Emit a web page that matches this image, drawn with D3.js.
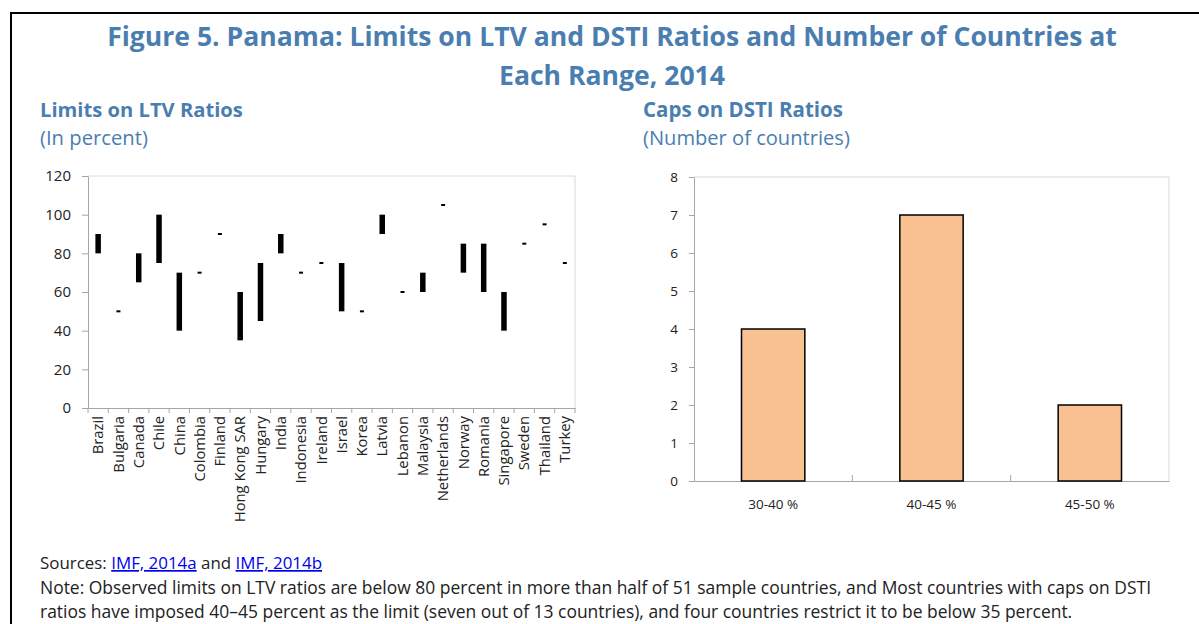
<!DOCTYPE html>
<html>
<head>
<meta charset="utf-8">
<script src="https://cdn.jsdelivr.net/npm/d3@7"></script>
<style>
  html, body { margin: 0; padding: 0; background: #fff; }
  svg { display: block; }
  text { font-family: "Open Sans", "Noto Sans", sans-serif; }
</style>
</head>
<body>
<svg id="chart" width="1199" height="624"></svg>
<script>
// ---------- data ----------
const countries = ["Brazil","Bulgaria","Canada","Chile","China","Colombia","Finland","Hong Kong SAR","Hungary","India","Indonesia","Ireland","Israel","Korea","Latvia","Lebanon","Malaysia","Netherlands","Norway","Romania","Singapore","Sweden","Thailand","Turkey"];
const ltvLow  = [80, 50, 65, 75, 40, 70, 90, 35, 45, 80, 70, 75, 50, 50, 90, 60, 60, 105, 70, 60, 40, 85, 95, 75];
const ltvHigh = [90, 50, 80, 100, 70, 70, 90, 60, 75, 90, 70, 75, 75, 50, 100, 60, 70, 105, 85, 85, 60, 85, 95, 75];
const ltvTicks = [0, 20, 40, 60, 80, 100, 120];

const dstiCategories = ["30-40 %", "40-45 %", "45-50 %"];
const dstiCounts = [4, 7, 2];
const dstiTicks = [0, 1, 2, 3, 4, 5, 6, 7, 8];

const titleLines = ["Figure 5. Panama: Limits on LTV and DSTI Ratios and Number of Countries at", "Each Range, 2014"];
const noteLines = [
  "Note: Observed limits on LTV ratios are below 80 percent in more than half of 51 sample countries, and Most countries with caps on DSTI",
  "ratios have imposed 40\u201345 percent as the limit (seven out of 13 countries), and four countries restrict it to be below 35 percent."
];

// ---------- setup ----------
const svg = d3.select("#chart");
const blue = "#4a7eb0";
const axisGray = "#a6a6a6";
const borderGray = "#d9d9d9";

function fit(sel, target) {
  const node = sel.node();
  const fs = parseFloat(sel.style("font-size"));
  const w = node.getComputedTextLength();
  sel.style("font-size", (fs * target / w).toFixed(2) + "px");
}

// frame
svg.append("line").attr("x1", 11).attr("x2", 11).attr("y1", 12).attr("y2", 624).attr("stroke", "#000").attr("stroke-width", 2);
svg.append("line").attr("x1", 10).attr("x2", 1199).attr("y1", 13).attr("y2", 13).attr("stroke", "#000").attr("stroke-width", 2);

// title
const t1 = svg.append("text").attr("x", 612).attr("y", 46).attr("text-anchor", "middle")
  .style("font-size", "26px").attr("font-weight", 700).attr("fill", blue).text(titleLines[0]);
fit(t1, 1010);
svg.append("text").attr("x", 612).attr("y", 85).attr("text-anchor", "middle")
  .style("font-size", t1.style("font-size")).attr("font-weight", 700).attr("fill", blue).text(titleLines[1]);

// panel titles
const p1 = svg.append("text").attr("x", 40).attr("y", 117).style("font-size", "19px").attr("font-weight", 700).attr("fill", blue).text("Limits on LTV Ratios");
fit(p1, 203);
const p2 = svg.append("text").attr("x", 40).attr("y", 145).style("font-size", "19px").attr("fill", blue).text("(In percent)");
fit(p2, 108);
const p3 = svg.append("text").attr("x", 643).attr("y", 117).style("font-size", "19px").attr("font-weight", 700).attr("fill", blue).text("Caps on DSTI Ratios");
fit(p3, 200);
const p4 = svg.append("text").attr("x", 643).attr("y", 145).style("font-size", "19px").attr("fill", blue).text("(Number of countries)");
fit(p4, 207);

// ---------- left chart ----------
const L = {x0: 88, x1: 575, y0: 176, y1: 408};
const xL = d3.scaleBand().domain(countries).range([L.x0, L.x1]).padding(0);
const yL = d3.scaleLinear().domain([0, 120]).range([L.y1, L.y0]);

svg.append("path").attr("d", `M${L.x0},${L.y0}H${L.x1}V${L.y1}`).attr("fill", "none").attr("stroke", borderGray);

const gyL = svg.append("g").attr("transform", `translate(${L.x0},0)`)
  .call(d3.axisLeft(yL).tickValues(ltvTicks).tickSize(6).tickPadding(11).tickSizeOuter(0));
gyL.select(".domain").attr("stroke", axisGray);
gyL.selectAll(".tick line").attr("stroke", axisGray);
gyL.selectAll(".tick text").style("font-size", "15px").style("font-family", "'Open Sans'").attr("fill", "#222");

const gxL = svg.append("g").attr("transform", `translate(0,${L.y1})`)
  .call(d3.axisBottom(xL).tickSize(0).tickSizeOuter(0));
gxL.select(".domain").attr("stroke", axisGray);
gxL.selectAll(".tick text")
  .attr("transform", "rotate(-90)")
  .attr("x", -8).attr("y", 0).attr("dy", "0.35em")
  .attr("text-anchor", "end")
  .style("font-size", "14.8px").style("font-family", "'Open Sans'").attr("fill", "#222");
const boundsL = countries.map(c => xL(c)).concat([L.x1]);
svg.append("g").selectAll("line").data(boundsL).join("line")
  .attr("x1", d => d).attr("x2", d => d).attr("y1", L.y1).attr("y2", L.y1 + 5)
  .attr("stroke", axisGray);

const ltvData = countries.map((c, i) => ({c, lo: ltvLow[i], hi: ltvHigh[i]}));
svg.append("g").selectAll("rect").data(ltvData).join("rect")
  .attr("x", d => xL(d.c) + xL.bandwidth() / 2 - (d.lo === d.hi ? 2 : 2.75))
  .attr("width", d => d.lo === d.hi ? 4 : 5.5)
  .attr("y", d => d.lo === d.hi ? yL(d.hi) - 1 : yL(d.hi))
  .attr("height", d => d.lo === d.hi ? 2 : yL(d.lo) - yL(d.hi))
  .attr("fill", "#000");

// ---------- right chart ----------
const R = {x0: 694, x1: 1169, y0: 177, y1: 481};
const xR = d3.scaleBand().domain(dstiCategories).range([R.x0, R.x1]).padding(0);
const yR = d3.scaleLinear().domain([0, 8]).range([R.y1, R.y0]);

svg.append("path").attr("d", `M${R.x0},${R.y0}H${R.x1}V${R.y1}`).attr("fill", "none").attr("stroke", borderGray);

const gyR = svg.append("g").attr("transform", `translate(${R.x0},0)`)
  .call(d3.axisLeft(yR).tickValues(dstiTicks).tickSize(5).tickPadding(11).tickSizeOuter(0));
gyR.select(".domain").attr("stroke", axisGray);
gyR.selectAll(".tick line").attr("stroke", axisGray);
gyR.selectAll(".tick text").style("font-size", "13.5px").style("font-family", "'Open Sans'").attr("fill", "#222");

const gxR = svg.append("g").attr("transform", `translate(0,${R.y1})`)
  .call(d3.axisBottom(xR).tickSize(0).tickPadding(18).tickSizeOuter(0));
gxR.select(".domain").attr("stroke", axisGray);
gxR.selectAll(".tick text").style("font-size", "13.5px").style("font-family", "'Open Sans'").attr("fill", "#222");
const boundsR = dstiCategories.slice(1).map(c => xR(c));
svg.append("g").selectAll("line").data(boundsR).join("line")
  .attr("x1", d => d).attr("x2", d => d).attr("y1", R.y1).attr("y2", R.y1 - 6)
  .attr("stroke", axisGray);

const bw = xR.bandwidth() * 0.4;
svg.append("g").selectAll("rect").data(dstiCategories.map((c, i) => ({c, v: dstiCounts[i]}))).join("rect")
  .attr("x", d => xR(d.c) + xR.bandwidth() / 2 - bw / 2)
  .attr("width", bw)
  .attr("y", d => yR(d.v))
  .attr("height", d => yR(0) - yR(d.v))
  .attr("fill", "#f9c192")
  .attr("stroke", "#000").attr("stroke-width", 1.5);

// ---------- footer ----------
const src = svg.append("text").attr("x", 40).attr("y", 569).style("font-size", "15.5px").attr("fill", "#222");
src.append("tspan").text("Sources: ");
src.append("tspan").attr("fill", "#0000ee").attr("text-decoration", "underline").text("IMF, 2014a");
src.append("tspan").text(" and ");
src.append("tspan").attr("fill", "#0000ee").attr("text-decoration", "underline").text("IMF, 2014b");
fit(src, 282);

const n1 = svg.append("text").attr("x", 40).attr("y", 594).style("font-size", "15.5px").attr("fill", "#222").text(noteLines[0]);
fit(n1, 1112);
svg.append("text").attr("x", 40).attr("y", 618).style("font-size", n1.style("font-size")).attr("fill", "#222").text(noteLines[1]);
</script>
</body>
</html>
